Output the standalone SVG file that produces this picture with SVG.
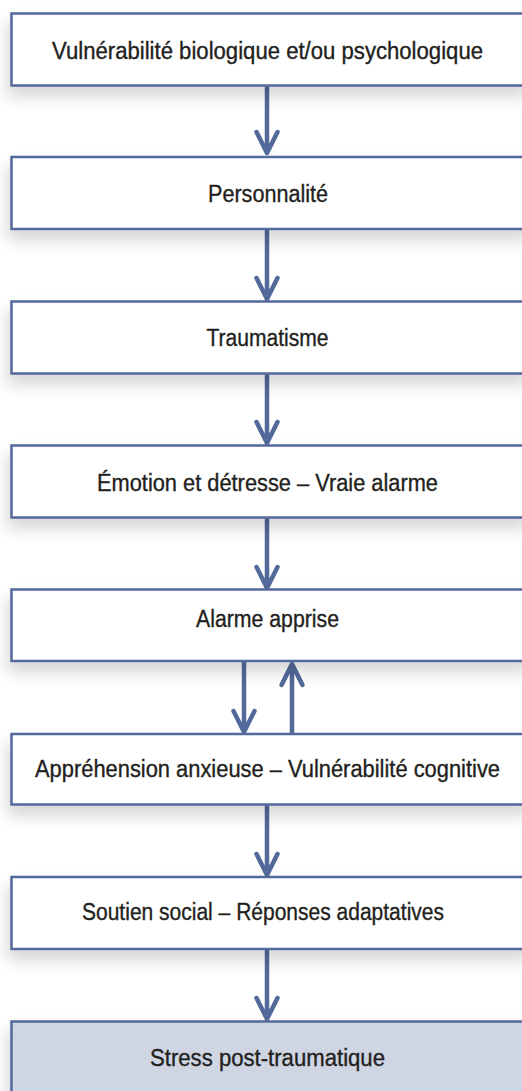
<svg xmlns="http://www.w3.org/2000/svg" width="522" height="1091" viewBox="0 0 522 1091">
<defs>
<filter id="sh" x="-10%" y="-30%" width="120%" height="190%">
<feDropShadow dx="-3" dy="10" stdDeviation="8" flood-color="#000" flood-opacity="0.16"/>
</filter>
<style>
.box{fill:#ffffff;stroke:#52699a;stroke-width:2.5;filter:url(#sh)}
.last{fill:#cfd5e3}
.t{font-family:"Liberation Sans",Arial,sans-serif;font-size:23px;fill:#231f20;stroke:#231f20;stroke-width:0.35}
.c{stroke:#52699a;stroke-width:4.5;fill:none;stroke-linecap:round;stroke-linejoin:round}
</style>
</defs>
<rect width="522" height="1091" fill="#ffffff"/>
<g id="connectors">
<g class="c">
<path d="M267 86V153M256.5 132L267 153L277.5 132"/>
<path d="M267 230V299M256.5 278L267 299L277.5 278"/>
<path d="M267 374V443M256.5 422L267 443L277.5 422"/>
<path d="M267 518V588M256.5 567L267 588L277.5 567"/>
<path d="M244 662V732M233.5 711L244 732L254.5 711"/>
<path d="M292 733V664M281.5 685L292 664L302.5 685"/>
<path d="M267 805V875M256.5 854L267 875L277.5 854"/>
<path d="M267 950V1019M256.5 998L267 1019L277.5 998"/>
</g>
</g>
<g id="n1"><rect class="box" x="11.5" y="13.5" width="520" height="72"/><text class="t" x="52" y="59" textLength="431" lengthAdjust="spacingAndGlyphs">Vulnérabilité biologique et/ou psychologique</text></g>
<g id="n2"><rect class="box" x="11.5" y="157" width="520" height="72"/><text class="t" x="208" y="201.5" textLength="120" lengthAdjust="spacingAndGlyphs">Personnalité</text></g>
<g id="n3"><rect class="box" x="11.5" y="301.5" width="520" height="72"/><text class="t" x="206.5" y="346" textLength="122" lengthAdjust="spacingAndGlyphs">Traumatisme</text></g>
<g id="n4"><rect class="box" x="11.5" y="445.5" width="520" height="72"/><text class="t" x="97" y="490.5" textLength="341" lengthAdjust="spacingAndGlyphs">Émotion et détresse – Vraie alarme</text></g>
<g id="n5"><rect class="box" x="11.5" y="589.5" width="520" height="71.5"/><text class="t" x="196" y="627" textLength="143" lengthAdjust="spacingAndGlyphs">Alarme apprise</text></g>
<g id="n6"><rect class="box" x="11.5" y="734" width="520" height="70.5"/><text class="t" x="35" y="776.5" textLength="465" lengthAdjust="spacingAndGlyphs">Appréhension anxieuse – Vulnérabilité cognitive</text></g>
<g id="n7"><rect class="box" x="11.5" y="877" width="520" height="72"/><text class="t" x="82" y="920" textLength="362" lengthAdjust="spacingAndGlyphs">Soutien social – Réponses adaptatives</text></g>
<g id="n8"><rect class="box last" x="11.5" y="1021.5" width="520" height="80"/><text class="t" x="150" y="1066" textLength="235" lengthAdjust="spacingAndGlyphs">Stress post-traumatique</text></g>
</svg>
